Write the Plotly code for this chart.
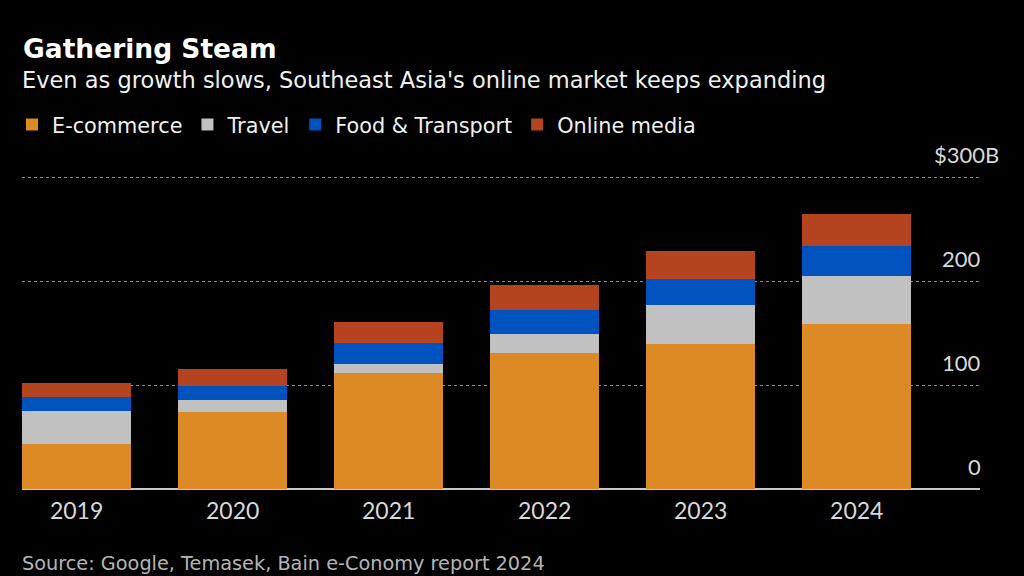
import plotly.graph_objects as go

years = ["2019", "2020", "2021", "2022", "2023", "2024"]
ecommerce = [43, 74, 112, 131, 139, 159]
travel = [32, 12, 8, 18, 38, 46]
food_transport = [13, 13, 20, 23, 25, 29]
online_media = [14, 16, 21, 24, 27, 30]

series = [
    ("E-commerce", ecommerce, "#dc8a25"),
    ("Travel", travel, "#c1c1c1"),
    ("Food & Transport", food_transport, "#0052bf"),
    ("Online media", online_media, "#b4431f"),
]

y_ticks = [0, 100, 200, 300]
y_tick_labels = ["0", "100", "200", "$300B"]

FONT = "DejaVu Sans, sans-serif"
NUMFONT = "Lato, Open Sans, sans-serif"

fig = go.Figure()
for name, vals, color in series:
    fig.add_trace(go.Bar(x=years, y=vals, name=name, marker=dict(color=color, line=dict(width=0))))

W, H = 1024, 576
L, R, T, B = 22, 44, 176, 87
pw = W - L - R
ph = H - T - B

def px_x(p):
    return (p - L) / pw

def px_y(p):
    return (H - B - p) / ph

annotations = []
for v, lab in zip(y_ticks, y_tick_labels):
    xr = 983 if not lab.startswith("$") else 1001
    annotations.append(dict(
        x=px_x(xr), xref="paper", y=v, yref="y", text=lab, showarrow=False,
        xanchor="right", yanchor="bottom", yshift=7,
        font=dict(family=NUMFONT, size=22, color="#d9d9d9"),
    ))

annotations += [
    dict(x=px_x(21), xref="paper", y=px_y(48), yref="paper", text="<b>Gathering Steam</b>",
         showarrow=False, xanchor="left", yanchor="middle",
         font=dict(family=FONT, size=26.5, color="#ffffff")),
    dict(x=px_x(20), xref="paper", y=px_y(80), yref="paper",
         text="Even as growth slows, Southeast Asia's online market keeps expanding",
         showarrow=False, xanchor="left", yanchor="middle",
         font=dict(family=FONT, size=22.5, color="#f0f0f0")),
    dict(x=px_x(20), xref="paper", y=px_y(563), yref="paper",
         text="Source: Google, Temasek, Bain e-Conomy report 2024",
         showarrow=False, xanchor="left", yanchor="middle",
         font=dict(family=FONT, size=19.3, color="#b5b5b5")),
]

fig.update_layout(
    width=W, height=H,
    margin=dict(l=L, r=R, t=T, b=B, pad=0),
    paper_bgcolor="#000000", plot_bgcolor="#000000",
    barmode="stack", bargap=0.3,
    showlegend=True,
    legend=dict(orientation="h", x=px_x(12), xanchor="left", y=px_y(125), yanchor="middle",
                font=dict(family=FONT, size=20.8, color="#f0f0f0"),
                bgcolor="rgba(0,0,0,0)", traceorder="normal", itemclick=False,
                borderwidth=0),
    xaxis=dict(type="category", range=[-0.35, 5.79], showgrid=False, zeroline=False,
               showline=False, ticks="", tickfont=dict(family=NUMFONT, size=23, color="#d9d9d9"),
               ticklabelstandoff=6),
    yaxis=dict(range=[0, 301], tickvals=y_ticks, showticklabels=False, showgrid=True,
               gridcolor="#8a8a8a", griddash="dot", gridwidth=1,
               zeroline=True, zerolinecolor="#c8c8c8", zerolinewidth=2, showline=False),
    annotations=annotations,
)

fig.write_html(
    "out.html",
    config={"displayModeBar": False},
    post_script="document.body.style.margin='0';document.body.style.background='#000';",
)
